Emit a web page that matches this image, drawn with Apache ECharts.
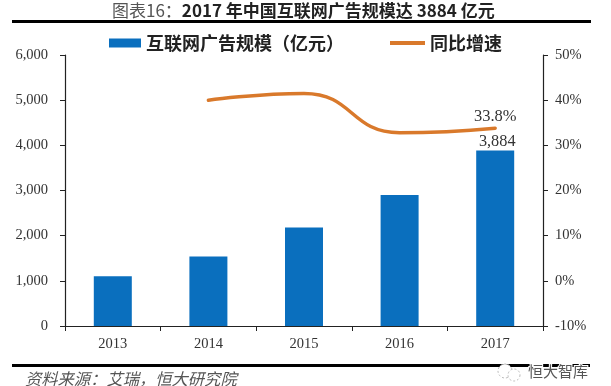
<!DOCTYPE html>
<html><head><meta charset="utf-8">
<style>html,body{margin:0;padding:0;background:#fff}#c{width:611px;height:386px}</style>
<script src="https://cdn.jsdelivr.net/npm/echarts@6/dist/echarts.min.js"></script>
</head><body><div id="c"></div>
<script>
const categories = ['2013','2014','2015','2016','2017'];
const scaleValues = [1100,1540,2180,2900,3884];
const growthValues = [null,40,41.5,32.8,33.8];
const seriesNames = ['互联网广告规模（亿元）','同比增速'];
const serif = '"Liberation Serif","Noto Serif CJK SC",serif';
const cjk = '"Noto Sans CJK SC",sans-serif';
const ink = '#333';
const barColor = '#0a6fbe';
const lineColor = '#d9792b';
const chart = echarts.init(document.getElementById('c'),null,{renderer:'canvas'});
const axisBase = {
  axisLine:{show:true,lineStyle:{color:'#222',width:1.2}},
  axisTick:{show:true,length:5,lineStyle:{color:'#222',width:1}},
  splitLine:{show:false},
  axisLabel:{color:ink,fontFamily:serif,fontSize:14.5}
};
const legendText = {fontFamily:cjk,fontWeight:'bold',fontSize:18,color:'#222'};
chart.setOption({
  animation:false,
  backgroundColor:'#fff',
  grid:{left:65,right:68,top:55,bottom:60},
  legend:[
    {top:34,left:109,padding:0,itemWidth:32,itemHeight:9,icon:'rect',textStyle:legendText,data:[seriesNames[0]]},
    {top:34,left:390,padding:0,itemWidth:35,itemHeight:4,icon:'rect',textStyle:legendText,data:[seriesNames[1]]}
  ],
  xAxis:{type:'category',data:categories,...axisBase,
    axisLabel:{color:ink,fontFamily:serif,fontSize:14.5,margin:11}},
  yAxis:[
    {type:'value',min:0,max:6000,interval:1000,...axisBase,
     axisLabel:{...axisBase.axisLabel,margin:17,formatter:v=>v.toLocaleString('en-US')}},
    {type:'value',min:-10,max:50,interval:10,position:'right',...axisBase,
     axisLabel:{...axisBase.axisLabel,margin:12,formatter:'{value}%'}}
  ],
  series:[
    {name:seriesNames[0],type:'bar',
     data:scaleValues.map((v,i)=>i===4?{value:v,label:{show:true,position:'top',distance:1,offset:[2,0],formatter:'3,884',color:ink,fontFamily:serif,fontSize:16.3}}:v),
     barWidth:38,itemStyle:{color:barColor}},
    {name:seriesNames[1],type:'line',yAxisIndex:1,
     data:growthValues.map((v,i)=>i===4?{value:v,label:{show:true,position:'top',distance:3,offset:[8,0],formatter:'33.8%',color:ink,fontFamily:serif,fontSize:16.5}}:v),
     smooth:0.5,showSymbol:true,symbol:'circle',symbolSize:1,z:3,
     labelLayout:{hideOverlap:false},
     lineStyle:{color:lineColor,width:3.5,cap:'round'},itemStyle:{color:lineColor}}
  ],
  graphic:[
    {type:'text',left:112,top:2,style:{
      text:'{a|图表16：}{b|2017 年中国互联网广告规模达 3884 亿元}',
      rich:{a:{fontFamily:cjk,fontSize:17,fill:'#555',fontWeight:'normal'},
            b:{fontFamily:cjk,fontSize:17,fill:'#222',fontWeight:'bold'}}}},
    {type:'rect',shape:{x:12,y:20,width:579,height:3},style:{fill:'#000'}},
    {type:'rect',shape:{x:12,y:364,width:578,height:3},style:{fill:'#000'}},
    {type:'text',left:25,top:371,style:{text:'资料来源：艾瑞，恒大研究院',fontFamily:cjk,fontStyle:'italic',fontSize:16.3,fill:'#555'}},
    {type:'circle',shape:{cx:505,cy:371,r:7},style:{fill:'#fff',stroke:'#bbb',lineDash:[2,2]}},
    {type:'circle',shape:{cx:514,cy:375,r:6},style:{fill:'#fff',stroke:'#bbb',lineDash:[2,2]}},
    {type:'text',left:527,top:363,style:{text:'恒大智库',fontFamily:cjk,fontSize:15,fill:'#555',stroke:'#fff',lineWidth:2}}
  ]
});
</script></body></html>
